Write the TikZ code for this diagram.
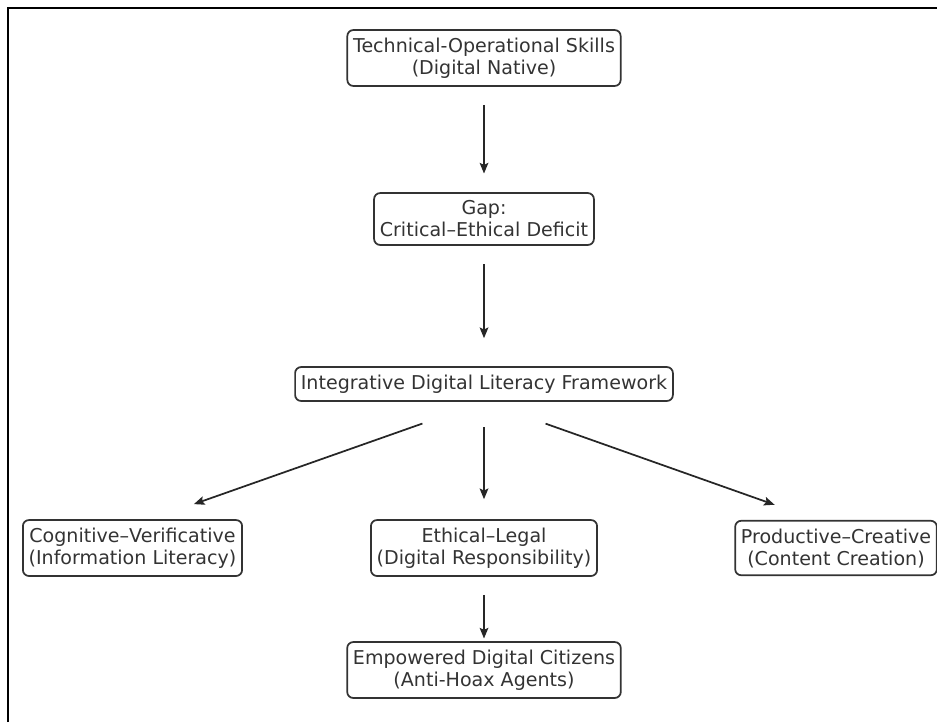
\documentclass[tikz,border=0pt]{standalone}
\usepackage{fontspec}
\setmainfont{DejaVu Sans}
\usepackage{tikz}
\usetikzlibrary{arrows.meta}

\begin{document}
\begin{tikzpicture}[x=0.75pt, y=-0.75pt]
\tikzstyle{stage}=[draw=black!80, line width=1.3pt, rounded corners=4.5pt, align=center, inner xsep=4.3pt, inner ysep=5.8pt, text=black!80, font=\fontsize{14.3pt}{16.5pt}\selectfont]
\tikzstyle{arrow}=[draw=black!85, line width=1.3pt, -{Stealth[length=8pt, width=6.5pt, inset=1.5pt]}]

\useasboundingbox (0,0) rectangle (937,722);
\draw[line width=1.5pt] (8,722) -- (8,8) -- (937,8);

\draw (484,58) node[stage] (tech) {Technical-Operational Skills\\(Digital Native)};
\draw (484,219) node[stage] (gap) {Gap:\\Critical--Ethical Deficit};
\draw (484,384) node[stage] (frame) {Integrative Digital Literacy Framework};
\draw (132.5,548) node[stage] (cog) {Cognitive--Verificative\\(Information Literacy)};
\draw (484,548) node[stage] (eth) {Ethical--Legal\\(Digital Responsibility)};
\draw (836,548) node[stage] (prod) {Productive--Creative\\(Content Creation)};
\draw (484,670) node[stage] (emp) {Empowered Digital Citizens\\(Anti-Hoax Agents)};

\draw (tech) edge[arrow, shorten <=13.5pt, shorten >=14pt] (gap);
\draw (gap) edge[arrow, shorten <=14pt, shorten >=21pt] (frame);
\draw (frame.south) edge[arrow, shorten <=49pt, shorten >=34pt] ([xshift=14pt]cog.north);
\draw (frame) edge[arrow, shorten <=19pt, shorten >=15pt] (eth);
\draw (frame.south) edge[arrow, shorten <=49pt, shorten >=34pt] ([xshift=-14pt]prod.north);
\draw (eth) edge[arrow, shorten <=13.5pt, shorten >=2pt] (emp);
\end{tikzpicture}
\end{document}
